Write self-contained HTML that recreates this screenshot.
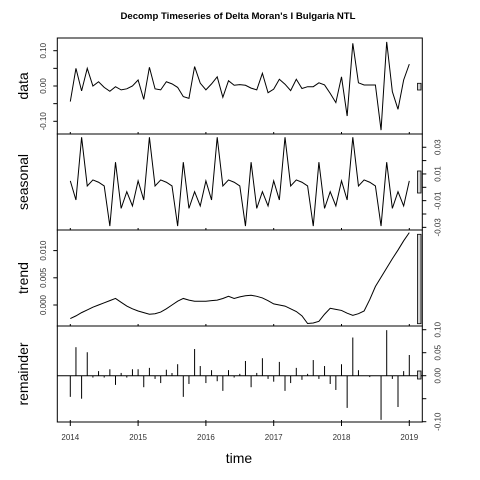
<!DOCTYPE html>
<html><head><meta charset="utf-8"><style>
html,body{margin:0;padding:0;background:#fff;}
svg{display:block;font-family:"Liberation Sans",Arial,sans-serif;}
</style></head><body>
<svg id="c" width="480" height="480" viewBox="0 0 480 480">
<text x="238" y="19" text-anchor="middle" font-size="9.6" font-weight="bold">Decomp Timeseries of Delta Moran's I Bulgaria NTL</text>
<g id="g"></g>
</svg>
<script>
const years = [2014, 2015, 2016, 2017, 2018, 2019];
const dataVals = [-0.044,0.05,-0.014,0.05,0,0.012,-0.004,-0.015,-0.002,-0.011,-0.008,0,0.017,-0.038,0.053,-0.008,-0.011,0.012,0.006,-0.004,-0.03,-0.035,0.055,0.008,-0.011,0.006,0.026,-0.032,0.015,0.002,0.004,0.002,-0.006,-0.011,0.036,-0.019,-0.009,0.019,0.005,-0.013,0.019,-0.007,-0.002,-0.002,0.009,0.003,-0.021,-0.047,0.026,-0.085,0.121,0.009,0.003,0.003,0.003,-0.125,0.125,-0.016,-0.066,0.017,0.062];
const seasonalVals = [0.0048,-0.0095,0.0375,0.001,0.0055,0.0038,0.001,-0.029,0.0188,-0.0158,-0.0033,-0.014,0.0048,-0.0095,0.0375,0.001,0.0055,0.0038,0.001,-0.029,0.0188,-0.0158,-0.0033,-0.014,0.0048,-0.0095,0.0375,0.001,0.0055,0.0038,0.001,-0.029,0.0188,-0.0158,-0.0033,-0.014,0.0048,-0.0095,0.0375,0.001,0.0055,0.0038,0.001,-0.029,0.0188,-0.0158,-0.0033,-0.014,0.0048,-0.0095,0.0375,0.001,0.0055,0.0038,0.001,-0.029,0.0188,-0.0158,-0.0033,-0.014,0.0048];
const trendVals = [-0.0025,-0.002,-0.0014,-0.0009,-0.0004,0,0.0004,0.0008,0.0012,0.0005,-0.0002,-0.0007,-0.0011,-0.0014,-0.0017,-0.0016,-0.0013,-0.0007,0,0.0007,0.0012,0.0009,0.0007,0.0007,0.0007,0.0008,0.0009,0.0012,0.0016,0.0012,0.0015,0.0017,0.0018,0.0016,0.0013,0.0008,0.0002,0,-0.0002,-0.0007,-0.0012,-0.002,-0.0034,-0.0033,-0.003,-0.0017,-0.0006,-0.0008,-0.001,-0.0015,-0.0019,-0.0016,-0.0011,0.001,0.0034,0.0051,0.0068,0.0085,0.0101,0.0118,0.0133];
const remainderVals = [-0.046,0.062,-0.05,0.051,-0.004,0.01,-0.004,0.014,-0.02,0.006,-0.004,0.014,0.014,-0.025,0.017,-0.007,-0.016,0.013,0.006,0.025,-0.046,-0.018,0.058,0.021,-0.016,0.012,-0.012,-0.033,0.012,-0.004,0.004,0.032,-0.025,0.006,0.038,-0.007,-0.013,0.03,-0.033,-0.016,0.017,-0.009,0.004,0.034,-0.007,0.021,-0.018,-0.031,0.025,-0.07,0.083,0.012,0,-0.003,0,-0.096,0.099,-0.007,-0.068,0.01,0.045];
const dataTicks = [-0.10,-0.05,0,0.05,0.10];
const dataTickLabels = ["-0.10","","0.00","","0.10"];
const seasTicks = [-0.03,-0.02,-0.01,0,0.01,0.02,0.03];
const seasTickLabels = ["-0.03","","-0.01","","0.01","","0.03"];
const trendTicks = [0,0.005,0.010];
const trendTickLabels = ["0.000","0.005","0.010"];
const remTicks = [-0.10,-0.05,0,0.05,0.10];
const remTickLabels = ["-0.10","","0.00","0.05","0.10"];

const NS="http://www.w3.org/2000/svg";
const g=document.getElementById('g');
function mk(tag,attrs){const e=document.createElementNS(NS,tag);for(const k in attrs)e.setAttribute(k,attrs[k]);g.appendChild(e);return e;}
const X0=57.3,X1=422.3;
function xT(t){return 70.3+(t-2014)*67.8;}
function xI(i){return xT(2014+i/12);}
const panels=[
 {name:'data',top:38,bot:134,y:v=>86-v*353,vals:dataVals,ticks:dataTicks,labs:dataTickLabels,side:'L',type:'line',bar:[83.3,90]},
 {name:'seasonal',top:134,bot:230,y:v=>187.3-v*1335,vals:seasonalVals,ticks:seasTicks,labs:seasTickLabels,side:'R',type:'line',bar:[171,193]},
 {name:'trend',top:230,bot:326,y:v=>305-v*5440,vals:trendVals,ticks:trendTicks,labs:trendTickLabels,side:'L',type:'line',bar:[234.3,323.7]},
 {name:'remainder',top:326,bot:422,y:v=>375.7-v*460,vals:remainderVals,ticks:remTicks,labs:remTickLabels,side:'R',type:'bar',bar:[371,379]}
];
panels.forEach(p=>{
 let r=mk('rect',{x:X0,y:p.top,width:X1-X0,height:p.bot-p.top,fill:'none',stroke:'#000','stroke-width':1});
 
 
 if(p.type==='line'){
  const d=p.vals.map((v,i)=>(i?'L':'M')+xI(i).toFixed(2)+','+p.y(v).toFixed(2)).join('');
  let l=mk('path',{d:d,fill:'none',stroke:'#000','stroke-width':1});
  
  
 } else {
  let z=mk('line',{x1:X0,x2:X1,y1:p.y(0),y2:p.y(0),stroke:'#000','stroke-width':1});
  
  
  p.vals.forEach((v,i)=>{
   let b=mk('line',{x1:xI(i),x2:xI(i),y1:p.y(0),y2:p.y(v),stroke:'#000','stroke-width':1});
   
   
  });
 }
 let sb=mk('rect',{x:417.5,y:p.bar[0],width:3.5,height:p.bar[1]-p.bar[0],fill:'#d3d3d3',stroke:'#000','stroke-width':0.8});
 
 
 const ax=p.side==='L'?X0:X1, dir=p.side==='L'?-1:1;
 p.ticks.forEach((t,k)=>{
  const yy=p.y(t);
  let tk=mk('line',{x1:ax,x2:ax+dir*4,y1:yy,y2:yy,stroke:'#000','stroke-width':1});
  
  
  if(p.labs[k]){
   const lx=p.side==='L'?43.5:438;
   let tx=mk('text',{x:lx,y:yy,'font-size':8,'text-anchor':'middle','dominant-baseline':'central',fill:'#333',transform:`rotate(-90 ${lx} ${yy})`});
   tx.textContent=p.labs[k];
   
   
  }
 });
 const cy=(p.top+p.bot)/2;
 let at=mk('text',{x:23,y:cy,'font-size':14,'text-anchor':'middle','dominant-baseline':'central',transform:`rotate(-90 23 ${cy})`});
 at.textContent=p.name;
 
 
 // small inner x ticks at panel boundaries
 years.forEach(yv=>{
  let it=mk('line',{x1:xT(yv),x2:xT(yv),y1:p.bot,y2:p.bot-2,stroke:'#000','stroke-width':1});
  
  
 });
});
years.forEach(yv=>{
 let tk=mk('line',{x1:xT(yv),x2:xT(yv),y1:422,y2:426,stroke:'#000','stroke-width':1});
 
 
 let tx=mk('text',{x:xT(yv),y:440,'font-size':8,'text-anchor':'middle',fill:'#333'});
 tx.textContent=yv;
 
 
});
let xt=mk('text',{x:239,y:463,'font-size':14,'text-anchor':'middle'});
xt.textContent='time';


</script>
</body></html>
